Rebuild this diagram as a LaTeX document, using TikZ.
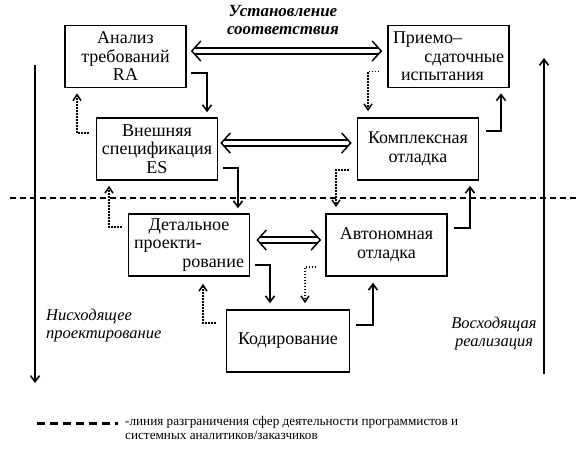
\documentclass[tikz,border=0pt]{standalone}
\usepackage{fontspec}
\setmainfont{Liberation Serif}
\usetikzlibrary{arrows.meta,positioning,calc}

\begin{document}
\begin{tikzpicture}[x=1pt,y=-1pt,
  stage/.style={draw,line width=1.6pt,minimum width=121pt,minimum height=62pt,inner sep=0pt,align=center,font=\fontsize{18}{18.5}\selectfont},
  flow/.style={line width=1.6pt,-{Straight Barb[length=6pt,width=9pt]}},
  back/.style={line width=1.5pt,dash pattern=on 1.5pt off 1.5pt,-{Straight Barb[length=6pt,width=8pt]}},
  link/.style={double,double distance=4.5pt,line width=1.5pt,shorten <=3.4pt,shorten >=3.4pt},
  linkhead/.style={line width=1.5pt,-{Straight Barb[length=9pt,width=20pt]}},
  note/.style={inner sep=0pt,font=\fontsize{16.5}{18}\selectfont\itshape}]
\useasboundingbox (0,0) rectangle (579,458);
% stages, left column goes down, right column goes up
\node[stage] (ra) at (125.5,56.5) {Анализ\\требований\\RA};
\node[stage] (es) at (157,149) {Внешняя\\спецификация\\ES};
\node[stage,text width=110pt,align=left] (det) at (189,245) {\hspace*{\fill}Детальное\hspace*{\fill}\null\\проекти-\\\hspace*{\fill}рование};
\node[stage,minimum width=123pt] (kod) at (288,341) {Кодирование};
\node[stage] (avt) at (386.5,245) {Автономная\\отладка};
\node[stage] (kompl) at (418,149) {Комплексная\\отладка};
\node[stage,text width=111pt,align=left] (pr) at (448.5,56.5) {Приемо–\\\hspace*{\fill}сдаточные\\\hspace*{\fill}испытания\hspace*{\fill}\hspace*{12pt}\null};
% correspondence
\coordinate (l1a) at ($(ra.east)+(4,-5.5)$);
\coordinate (l1b) at ($(pr.west)+(-5,-5.5)$);
\coordinate (l2a) at ($(es.east)+(2,-6)$);
\coordinate (l2b) at ($(kompl.west)+(-5,-6)$);
\coordinate (l3a) at ($(det.east)+(6,-5)$);
\coordinate (l3b) at ($(avt.west)+(-4,-5)$);
\foreach \a/\b in {l1a/l1b,l2a/l2b,l3a/l3b}{
  \draw[link] (\a) -- (\b);
  \draw[linkhead] ($(\a)+(1,0)$) -- (\a);
  \draw[linkhead] ($(\b)+(-1,0)$) -- (\b);
}
\node[note,font=\fontsize{17}{17.5}\selectfont\bfseries\itshape,align=center] (corr) at (283,20) {Установление\\соответствия};
% forward steps
\draw[flow] ($(ra.east)+(4,16.5)$) -| ($(es.north)+(50,-5)$);
\draw[flow] ($(es.east)+(5,19)$) -| ($(det.north)+(49,-5)$);
\draw[flow] ($(det.east)+(5,20)$) -| ($(kod.north)+(-18,-6)$);
\draw[flow] ($(kod.east)+(6,-16)$) -| ($(avt.south)+(-13.5,6)$);
\draw[flow] ($(avt.east)+(6,-17)$) -| ($(kompl.south)+(52,5)$);
\draw[flow] ($(kompl.east)+(7,-18)$) -| ($(pr.south)+(52.5,5)$);
% returns
\draw[back] ($(es.west)+(-7,-16)$) -| ($(ra.south)+(-48.5,5)$);
\draw[back] ($(det.west)+(-6,-18)$) -| ($(es.south)+(-48,5)$);
\draw[back] ($(kod.west)+(-10,-18)$) -| ($(det.south)+(14,7)$);
\draw[back] ($(pr.west)+(-8,15)$) -| ($(kompl.north)+(-50,-6)$);
\draw[back] ($(kompl.west)+(-8,21)$) -| ($(avt.north)+(-50.5,-6)$);
\draw[back] ($(avt.west)+(-9,22)$) -| ($(kod.north)+(17,-6)$);
% border line
\coordinate (bl) at (10,198);
\coordinate (br) at (576,198);
\draw[line width=1.6pt,dash pattern=on 6pt off 4pt] (bl) -- (br);
% directions
\coordinate (dtop) at (35,65);
\coordinate (dbot) at (35,383);
\coordinate (utop) at (544,58);
\coordinate (ubot) at (544,374);
\draw[flow] (dtop) -- (dbot);
\draw[flow] (ubot) -- (utop);
\node[note,anchor=west,align=left] (down) at (46,326) {Нисходящее\\проектирование};
\node[note,align=center] (up) at (494,334) {Восходящая\\реализация};
% legend
\coordinate (ll) at (37,423);
\coordinate (lr) at (118,423);
\draw[line width=3pt,dash pattern=on 8pt off 5pt] (ll) -- (lr);
\node[anchor=west,inner sep=0pt,align=left,font=\fontsize{13.2}{14.5}\selectfont] (leg) at (125,428) {-линия разграничения сфер деятельности программистов и\\системных аналитиков/заказчиков};
\end{tikzpicture}
\end{document}
